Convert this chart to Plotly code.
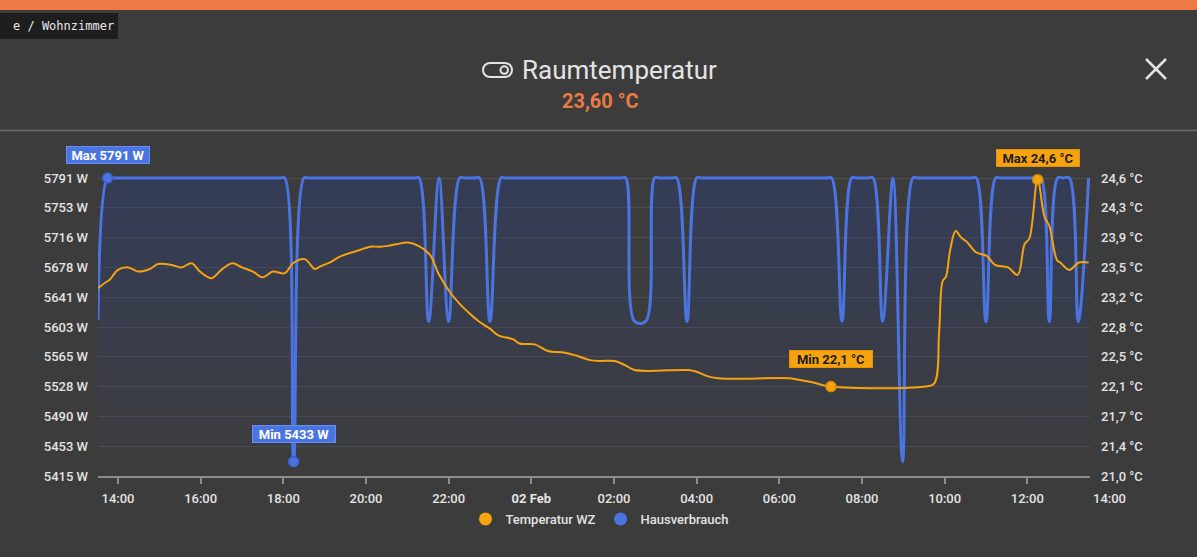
import numpy as np
import pandas as pd
import plotly.graph_objects as go

# ---------------- data ----------------
# power series (Hausverbrauch) – "day HH:MM"
power_times = [
    "1 13:31", "1 13:45", "1 13:52", "1 17:55", "1 18:02", "1 18:15", "1 18:30", "1 18:37",
    "1 21:10", "1 21:17", "1 21:31", "1 21:46", "1 22:00", "1 22:16", "1 22:23", "1 22:38",
    "1 22:45", "1 23:00", "1 23:16", "1 23:23", "2 02:10", "2 02:17", "2 02:30", "2 02:46",
    "2 02:59", "2 03:06", "2 03:24", "2 03:31", "2 03:46", "2 04:00", "2 04:07", "2 07:09",
    "2 07:16", "2 07:31", "2 07:45", "2 07:52", "2 08:09", "2 08:16", "2 08:30", "2 08:45",
    "2 08:59", "2 09:14", "2 09:21", "2 10:39", "2 10:46", "2 11:00", "2 11:14", "2 11:21",
    "2 12:13", "2 12:20", "2 12:32", "2 12:44", "2 12:52", "2 13:01", "2 13:14", "2 13:29",
]
power_values = [
    5612, 5791, 5791, 5791, 5791, 5433, 5791, 5791,
    5791, 5791, 5610, 5791, 5610, 5791, 5791, 5791,
    5791, 5610, 5791, 5791, 5791, 5791, 5610, 5610,
    5791, 5791, 5791, 5791, 5610, 5791, 5791, 5791,
    5791, 5610, 5791, 5791, 5791, 5791, 5610, 5791,
    5433, 5791, 5791, 5791, 5791, 5610, 5791, 5791,
    5791, 5791, 5610, 5791, 5791, 5791, 5610, 5791,
]

# temperature series (Temperatur WZ)
temp_times = [
    "1 13:31", "1 13:44", "1 13:48", "1 14:00", "1 14:15", "1 14:29", "1 14:46", "1 14:58",
    "1 15:18", "1 15:32", "1 15:47", "1 15:59", "1 16:16", "1 16:30", "1 16:46", "1 17:00",
    "1 17:16", "1 17:30", "1 17:45", "1 18:02", "1 18:14", "1 18:31", "1 18:46", "1 18:53",
    "1 19:08", "1 19:22", "1 19:51", "1 20:06", "1 20:20", "1 20:32", "1 20:44", "1 21:01",
    "1 21:16", "1 21:33", "1 21:45", "1 22:02", "1 22:16", "1 22:31", "1 22:45", "1 23:00",
    "1 23:12", "1 23:34", "1 23:43", "2 00:05", "2 00:24", "2 00:49", "2 01:07", "2 01:25",
    "2 01:39", "2 02:01", "2 02:16", "2 02:30", "2 03:48", "2 04:00", "2 04:14", "2 04:31",
    "2 06:15", "2 06:30", "2 06:49", "2 07:15", "2 09:31", "2 09:45", "2 09:52", "2 09:57",
    "2 10:02", "2 10:08", "2 10:16", "2 10:24", "2 10:32", "2 10:46", "2 11:01", "2 11:13",
    "2 11:32", "2 11:46", "2 11:56", "2 12:03", "2 12:15", "2 12:25", "2 12:32", "2 12:43",
    "2 12:49", "2 13:01", "2 13:15", "2 13:29",
]
temp_values = [
    23.29, 23.37, 23.39, 23.51, 23.54, 23.49, 23.52, 23.58,
    23.57, 23.54, 23.59, 23.49, 23.41, 23.51, 23.59, 23.54,
    23.49, 23.42, 23.49, 23.47, 23.59, 23.64, 23.52, 23.55,
    23.60, 23.67, 23.75, 23.79, 23.79, 23.80, 23.82, 23.84,
    23.80, 23.69, 23.47, 23.24, 23.10, 22.98, 22.88, 22.80,
    22.72, 22.67, 22.62, 22.61, 22.53, 22.51, 22.47, 22.42,
    22.41, 22.41, 22.36, 22.30, 22.30, 22.28, 22.23, 22.20,
    22.20, 22.18, 22.15, 22.10, 22.10, 22.14, 22.76, 23.37,
    23.43, 23.75, 23.98, 23.90, 23.85, 23.72, 23.68, 23.57,
    23.54, 23.45, 23.82, 23.89, 24.60, 24.15, 24.04, 23.63,
    23.59, 23.51, 23.60, 23.60,
]

x_tick_times = ["1 14:00", "1 16:00", "1 18:00", "1 20:00", "1 22:00", "2 00:00",
                "2 02:00", "2 04:00", "2 06:00", "2 08:00", "2 10:00", "2 12:00", "2 14:00"]
x_tick_labels = ["14:00", "16:00", "18:00", "20:00", "22:00", "<b>02 Feb</b>",
                 "02:00", "04:00", "06:00", "08:00", "10:00", "12:00", "14:00"]
x_window = ["1 13:31", "2 13:31"]

power_tick_labels = ["5415 W", "5453 W", "5490 W", "5528 W", "5565 W", "5603 W",
                     "5641 W", "5678 W", "5716 W", "5753 W", "5791 W"]
temp_tick_labels = ["21,0 °C", "21,4 °C", "21,7 °C", "22,1 °C", "22,5 °C", "22,8 °C",
                    "23,2 °C", "23,5 °C", "23,9 °C", "24,3 °C", "24,6 °C"]
power_range = [5415, 5791]
temp_range = [21.02, 24.62]

breadcrumb = "e / Wohnzimmer"
title_text = "Raumtemperatur"
current_value = "23,60 °C"
series_names = ["Temperatur WZ", "Hausverbrauch"]

# ---------------- styling ----------------
BG = "#3c3c3c"
BLUE = "#4a74e2"
ORANGE = "#f6a30f"
ACCENT = "#ec7a45"
TEXT = "#e3e3e3"
FONT = "Roboto, 'Noto Sans', sans-serif"
TICKFONT = dict(family=FONT, size=13, color=TEXT, weight=500)

FIG_W, FIG_H = 1197, 557
L, R, T, B = 98, 1090, 176, 476
PW, PH = R - L, B - T


def ts(s):
    d, hm = s.split(" ")
    return pd.Timestamp(f"2025-02-0{d} {hm}")


def px(x):
    return (x - L) / PW


def py(y):
    return (B - y) / PH


pt = [ts(s) for s in power_times]
tt = [ts(s) for s in temp_times]
xt = [ts(s) for s in x_tick_times]
xw = [ts(s) for s in x_window]

# headroom of 2px at the top so lines at the max are not clipped
pspan = (power_range[1] - power_range[0]) / (B - T - 2)
tspan = (temp_range[1] - temp_range[0]) / (B - T - 2)
p_axis = [power_range[0], power_range[1] + 2 * pspan]
t_axis = [temp_range[0], temp_range[1] + 2 * tspan]

fig = go.Figure()

fig.add_trace(go.Scatter(
    x=pt, y=power_values, mode="lines", yaxis="y",
    line=dict(color=BLUE, width=3, shape="spline", smoothing=1),
    fill="tozeroy",
    fillgradient=dict(type="vertical", start=power_range[0], stop=power_range[1],
                      colorscale=[[0, "rgba(45,65,130,0.0)"], [1, "rgba(40,60,125,0.42)"]]),
    showlegend=False, hoverinfo="skip",
))
fig.add_trace(go.Scatter(
    x=tt, y=temp_values, mode="lines", yaxis="y2",
    line=dict(color=ORANGE, width=2, shape="spline", smoothing=1),
    showlegend=False, hoverinfo="skip",
))

# max / min markers
pv = np.array(power_values)
tv = np.array(temp_values)
pi_max, pi_min = int(np.argmax(pv)), int(np.argmin(pv))
ti_max, ti_min = int(np.argmax(tv)), int(np.argmin(tv))

fig.add_trace(go.Scatter(
    x=[pt[pi_max], pt[pi_min]], y=[pv[pi_max], pv[pi_min]], mode="markers", yaxis="y",
    marker=dict(size=10, color=BLUE, line=dict(color="#3a5fcf", width=1.5)),
    showlegend=False, hoverinfo="skip", cliponaxis=False,
))
fig.add_trace(go.Scatter(
    x=[tt[ti_max], tt[ti_min]], y=[tv[ti_max], tv[ti_min]], mode="markers", yaxis="y2",
    marker=dict(size=10, color=ORANGE, line=dict(color="#d98c05", width=1.5)),
    showlegend=False, hoverinfo="skip", cliponaxis=False,
))

# legend entries
fig.add_trace(go.Scatter(x=[None], y=[None], mode="markers", name=series_names[0],
                         marker=dict(size=13, color=ORANGE)))
fig.add_trace(go.Scatter(x=[None], y=[None], mode="markers", name=series_names[1],
                         marker=dict(size=13, color=BLUE)))


def fmt_de(v, unit):
    return f"{v:.1f}".replace(".", ",") + " " + unit


annotations = []
label_specs = [
    (pt[pi_max], pv[pi_max], "y", f"Max {pv[pi_max]:.0f} W", BLUE, "#6b8cf0", "white", 23),
    (pt[pi_min], pv[pi_min], "y", f"Min {pv[pi_min]:.0f} W", BLUE, "#6b8cf0", "white", 28),
    (tt[ti_max], tv[ti_max], "y2", "Max " + fmt_de(tv[ti_max], "°C"), ORANGE, "#e09408", "#1c1c1c", 22),
    (tt[ti_min], tv[ti_min], "y2", "Min " + fmt_de(tv[ti_min], "°C"), ORANGE, "#e09408", "#1c1c1c", 28),
]
for x, y, yref, text, bg, border, fc, shift in label_specs:
    annotations.append(dict(
        x=x, y=y, xref="x", yref=yref, text=f"<b>{text}</b>", showarrow=False,
        yshift=shift, bgcolor=bg, bordercolor=border, borderwidth=1, borderpad=1,
        width=80, height=14, font=dict(family=FONT, size=13, color=fc),
    ))

# header texts
annotations += [
    dict(x=px(11), y=py(26), xref="paper", yref="paper", xanchor="left", yanchor="middle",
         text=breadcrumb, showarrow=False,
         font=dict(family="'DejaVu Sans Mono', monospace", size=12, color="#e8e8e8")),
    dict(x=px(619), y=py(70), xref="paper", yref="paper", xanchor="center", yanchor="middle",
         text=title_text, showarrow=False, font=dict(family=FONT, size=26, color=TEXT)),
    dict(x=px(600.5), y=py(101), xref="paper", yref="paper", xanchor="center", yanchor="middle",
         text=f"<b>{current_value}</b>", showarrow=False, font=dict(family=FONT, size=20, color=ACCENT)),
]
# last tick label (falls outside the plotted window)
frac = (xt[-1] - xw[0]) / (xw[1] - xw[0])
annotations.append(dict(x=frac, y=0, xref="paper", yref="paper", xanchor="center", yanchor="top",
                        yshift=-13, text=x_tick_labels[-1], showarrow=False, font=TICKFONT))

# header shapes
def rect(x0, y0, x1, y1, color):
    return dict(type="rect", xref="paper", yref="paper", x0=px(x0), x1=px(x1), y0=py(y1), y1=py(y0),
                fillcolor=color, line=dict(width=0), layer="above")


def seg(x0, y0, x1, y1, color, w):
    return dict(type="line", xref="paper", yref="paper", x0=px(x0), x1=px(x1), y0=py(y0), y1=py(y1),
                line=dict(color=color, width=w), layer="above")


def P(x, y):
    return f"{px(x):.6f},{py(y):.6f}"


pill = ("M " + P(490, 63) + " L " + P(505, 63) + " C " + P(509, 63) + " " + P(512, 66) + " " + P(512, 70)
        + " C " + P(512, 74) + " " + P(509, 77) + " " + P(505, 77) + " L " + P(490, 77)
        + " C " + P(486, 77) + " " + P(483, 74) + " " + P(483, 70) + " C " + P(483, 66) + " "
        + P(486, 63) + " " + P(490, 63) + " Z")

shapes = [
    rect(0, 0, FIG_W, 10, ACCENT),
    rect(0, 13, 118, 39, "#1e1e1e"),
    seg(0, 130.5, FIG_W, 130.5, "#6c6c6c", 1.5),
    seg(1146, 59, 1166, 79, TEXT, 2.5),
    seg(1146, 79, 1166, 59, TEXT, 2.5),
    dict(type="path", xref="paper", yref="paper", path=pill, line=dict(color=TEXT, width=2), layer="above"),
    dict(type="circle", xref="paper", yref="paper", x0=px(500.5), x1=px(508), y0=py(73.8), y1=py(66.3),
         line=dict(color=TEXT, width=2), layer="above"),
]

fig.update_layout(
    width=FIG_W, height=FIG_H,
    margin=dict(l=L, r=FIG_W - R, t=T, b=FIG_H - B, pad=0),
    paper_bgcolor=BG, plot_bgcolor=BG,
    font=dict(family=FONT, size=12, color=TEXT),
    xaxis=dict(
        type="date", range=xw, tickvals=xt[:-1], ticktext=x_tick_labels[:-1],
        showgrid=False, zeroline=False, showline=True, linecolor="#8c8c8c", linewidth=2,
        ticks="outside", ticklen=6, tickcolor="#8c8c8c", tickwidth=1.5, ticklabelstandoff=3,
        tickfont=TICKFONT,
    ),
    yaxis=dict(
        range=p_axis, tickvals=list(np.linspace(power_range[0], power_range[1], 11)),
        ticktext=power_tick_labels, showgrid=True, gridcolor="#4d4d4d", gridwidth=1,
        zeroline=False, showline=False, ticks="", ticklabelstandoff=9,
        tickfont=TICKFONT,
    ),
    yaxis2=dict(
        range=t_axis, tickvals=list(np.linspace(temp_range[0], temp_range[1], 11)),
        ticktext=temp_tick_labels, overlaying="y", side="right", showgrid=False,
        zeroline=False, showline=False, ticks="", ticklabelstandoff=10,
        tickfont=TICKFONT,
    ),
    legend=dict(orientation="h", x=0.5 + 6 / PW, xanchor="center", y=py(519), yanchor="middle",
                font=dict(family=FONT, size=13, color=TEXT, weight=500), bgcolor="rgba(0,0,0,0)",
                itemwidth=30),
    annotations=annotations,
    shapes=shapes,
)

fig.write_html("out.html")
